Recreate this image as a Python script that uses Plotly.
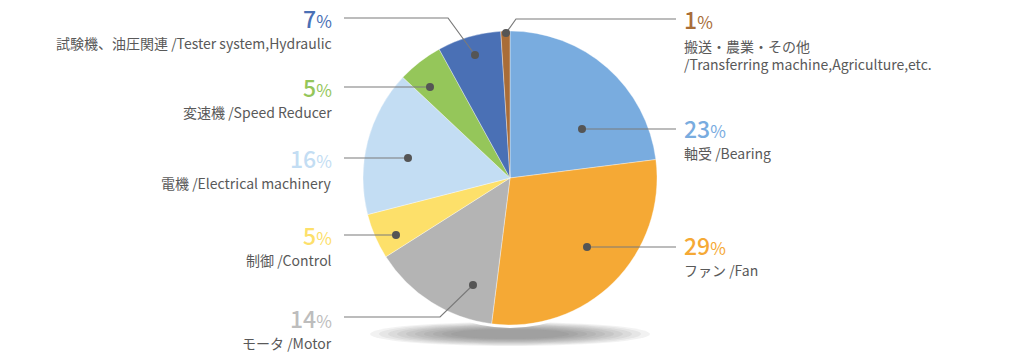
import plotly.graph_objects as go

# ---- data ----
categories_jp = ["軸受", "ファン", "モータ", "制御", "電機", "変速機", "試験機、油圧関連", "搬送・農業・その他"]
categories_en = ["Bearing", "Fan", "Motor", "Control", "Electrical machinery", "Speed Reducer",
                 "Tester system,Hydraulic", "Transferring machine,Agriculture,etc."]
shares = [23, 29, 14, 5, 16, 5, 7, 1]
colors = ["#79acdf", "#f5a935", "#b4b4b4", "#fde06a", "#c3ddf3", "#95c65a", "#4a70b5", "#a96d38"]
pct_colors = ["#79acdf", "#f5a935", "#bdbdbd", "#fde06a", "#c3ddf3", "#95c65a", "#4a70b5", "#a96d38"]

# ---- layout helpers (screen pixel positions of labels / leader lines) ----
W, H = 1020, 359
OFF = 8  # page body margin
CX, CY, R = 510, 178, 147
label_layout = [
    ("right", 128, [(676, 129), (582, 129)]),
    ("right", 245, [(676, 247), (587, 247)]),
    ("left", 318, [(344, 317), (440, 317), (473, 285)]),
    ("left", 235, [(344, 235), (396, 235)]),
    ("left", 158, [(344, 158), (408, 158)]),
    ("left", 87, [(344, 87), (430, 87)]),
    ("left", 18, [(344, 18), (448, 18), (475, 55)]),
    ("right", 19, [(676, 19), (516, 19), (506, 33)]),
]

fig = go.Figure()
fig.add_trace(go.Pie(
    values=shares, labels=categories_en, sort=False, direction="clockwise", rotation=0,
    marker=dict(colors=colors, line=dict(color="rgba(255,255,255,0.6)", width=0.6)),
    textinfo="none", hoverinfo="label+percent", showlegend=False,
    domain=dict(x=[(CX - R - OFF) / W, (CX + R - OFF) / W],
                y=[(H - (CY - OFF) - R) / H, (H - (CY - OFF) + R) / H]),
))

shapes = []
# soft shadow under the pie
for i in range(10):
    w = 140 - i * 9
    h = 12 - i * 0.8
    shapes.append(dict(type="circle", xref="x", yref="y", layer="below",
                       x0=CX - w, x1=CX + w, y0=334 - h, y1=334 + h,
                       fillcolor="rgba(90,90,90,0.08)", line=dict(width=0)))
# white rim separating pie from shadow
shapes.append(dict(type="circle", xref="x", yref="y", layer="below",
                   x0=CX - R - 3, x1=CX + R + 3, y0=CY - R - 3, y1=CY + R + 3,
                   fillcolor="white", line=dict(width=0)))

annotations = []
for i, (side, ly, pts) in enumerate(label_layout):
    path = "M " + " L ".join(f"{x},{y}" for x, y in pts)
    shapes.append(dict(type="path", xref="x", yref="y", path=path,
                       line=dict(color="#7a7a7a", width=1.2), layer="above"))
    dx, dy = pts[-1]
    shapes.append(dict(type="circle", xref="x", yref="y", x0=dx - 4, x1=dx + 4, y0=dy - 4, y1=dy + 4,
                       fillcolor="#555555", line=dict(width=0), layer="above"))
    xa = 334 if side == "left" else 682
    anchor = "right" if side == "left" else "left"
    pct = (f"<span style='font-size:23px;font-weight:500'>{shares[i]}</span>"
           f"<span style='font-size:17px'>%</span>")
    annotations.append(dict(x=xa, y=ly, xref="x", yref="y", text=pct, showarrow=False,
                            xanchor=anchor, yanchor="middle",
                            font=dict(family="Noto Sans CJK JP", color=pct_colors[i], size=22)))
    if i == 7:
        txt = f"{categories_jp[i]}<br>/{categories_en[i]}"
        yy = ly + 36
    else:
        txt = f"{categories_jp[i]} /{categories_en[i]}"
        yy = ly + 25
    annotations.append(dict(x=xa, y=yy, xref="x", yref="y", text=txt, showarrow=False,
                            xanchor=anchor, yanchor="middle", align=anchor,
                            font=dict(family="Noto Sans CJK JP", color="#595959", size=14)))

fig.update_layout(
    width=W, height=H, margin=dict(l=0, r=0, t=0, b=0),
    paper_bgcolor="white", plot_bgcolor="rgba(0,0,0,0)",
    xaxis=dict(range=[OFF, W + OFF], visible=False, domain=[0, 1], fixedrange=True),
    yaxis=dict(range=[H + OFF, OFF], visible=False, domain=[0, 1], fixedrange=True),
    shapes=shapes, annotations=annotations,
)
fig.write_html("out.html")
